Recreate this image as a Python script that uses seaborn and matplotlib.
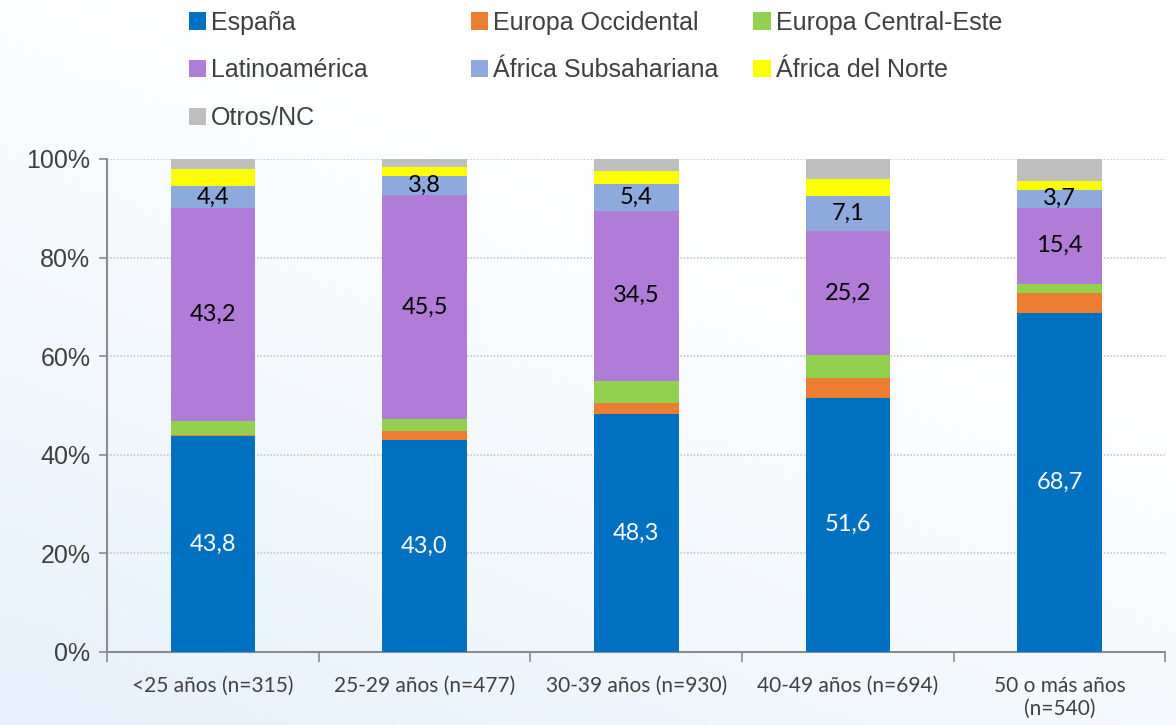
import numpy as np
import pandas as pd
import matplotlib
matplotlib.use("Agg")
import matplotlib.pyplot as plt
from matplotlib.patches import Patch
from matplotlib.ticker import FixedLocator
import seaborn as sns

# data (percent of each age group)
grupos = ["<25 años (n=315)", "25-29 años (n=477)", "30-39 años (n=930)",
          "40-49 años (n=694)", "50 o más años\n(n=540)"]
espana = [43.8, 43.0, 48.3, 51.6, 68.7]
europa_occ = [0.3, 1.8, 2.2, 3.9, 4.2]
europa_ce = [2.8, 2.4, 4.5, 4.7, 1.8]
latinoamerica = [43.2, 45.5, 34.5, 25.2, 15.4]
africa_sub = [4.4, 3.8, 5.4, 7.1, 3.7]
africa_norte = [3.4, 1.9, 2.6, 3.4, 1.8]
otros = [2.1, 1.6, 2.5, 4.1, 4.4]

series = ["España", "Europa Occidental", "Europa Central-Este", "Latinoamérica",
          "África Subsahariana", "África del Norte", "Otros/NC"]
valores = [espana, europa_occ, europa_ce, latinoamerica, africa_sub, africa_norte, otros]
colores = ["#0070C0", "#ED7D31", "#92D050", "#B07CD8", "#8EA9DB", "#FFFF00", "#BFBFBF"]
etiquetadas = {"España": "white", "Latinoamérica": "black", "África Subsahariana": "black"}

df = pd.DataFrame({s: v for s, v in zip(series, valores)}, index=grupos)
cum = df.cumsum(axis=1)

sns.set_theme(style="white")
plt.rcParams["font.family"] = ["Liberation Sans", "DejaVu Sans"]

fig = plt.figure(figsize=(11.76, 7.25), dpi=100)

# soft blue background gradient
bg = fig.add_axes([0, 0, 1, 1], zorder=-10)
yy, xx = np.mgrid[0:1:200j, 0:1:200j]
grad = np.clip(1.0 - 0.6 * xx - 0.9 * yy, 0, 1)
bg.imshow(grad, cmap=matplotlib.colors.LinearSegmentedColormap.from_list(
    "bgc", ["#ffffff", "#e6f1fb"]), extent=[0, 1, 0, 1], aspect="auto", origin="lower")
bg.axis("off")

ax = fig.add_axes([0.091, 0.1007, 0.9, 0.68])
ax.patch.set_alpha(0)

# stacked bars: draw cumulative totals from the top series down
for s, c in reversed(list(zip(series, colores))):
    d = pd.DataFrame({"grupo": grupos, "valor": cum[s].values})
    sns.barplot(data=d, x="grupo", y="valor", color=c, width=0.4,
                saturation=1, edgecolor="none", ax=ax, zorder=3)

# value labels
for s, tc in etiquetadas.items():
    for i, g in enumerate(grupos):
        v = df.loc[g, s]
        mid = cum.loc[g, s] - v / 2
        ax.text(i, mid, f"{v:.1f}".replace(".", ","), ha="center", va="center",
                color=tc, fontsize=17, family=["Lato", "DejaVu Sans"], zorder=5)

ax.set_ylim(0, 100)
ax.set_xlim(-0.5, len(grupos) - 0.5)
ax.set_yticks([0, 20, 40, 60, 80, 100])
ax.set_yticklabels([f"{t}%" for t in [0, 20, 40, 60, 80, 100]], fontsize=18, color="#404040")
ax.yaxis.grid(True, color="#c8c8c8", linestyle=(0, (1, 1)), linewidth=1.2, zorder=0)
ax.set_axisbelow(True)
ax.set_xlabel("")
ax.set_ylabel("")

ax.tick_params(axis="x", which="major", length=0, pad=17)
for lab in ax.get_xticklabels():
    lab.set_fontsize(15)
    lab.set_family(["Lato", "DejaVu Sans"])
    lab.set_color("#404040")
    lab.set_verticalalignment("top")
ax.xaxis.set_minor_locator(FixedLocator(np.arange(-0.5, len(grupos), 1.0)))
ax.tick_params(axis="x", which="minor", length=7, width=1.2, color="#8c8c8c", bottom=True)
ax.tick_params(axis="y", length=6, width=1.2, color="#8c8c8c", left=True, pad=6)

for side in ["top", "right"]:
    ax.spines[side].set_visible(False)
for side in ["left", "bottom"]:
    ax.spines[side].set_color("#8c8c8c")
    ax.spines[side].set_linewidth(1.5)

# legend laid out in three equal columns, as in the reference
columnas = [[0, 3, 6], [1, 4], [2, 5]]
xs = [0.152, 0.392, 0.632]
for col, x0 in zip(columnas, xs):
    handles = [Patch(facecolor=colores[k], edgecolor="none") for k in col]
    labels = [series[k] for k in col]
    leg = fig.legend(handles, labels, loc="upper left", bbox_to_anchor=(x0, 0.999),
                     frameon=False, fontsize=18, handlelength=0.7, handleheight=0.7,
                     handletextpad=0.2, labelspacing=0.95, borderaxespad=0)
    for t in leg.get_texts():
        t.set_color("#404040")

fig.savefig("out.png", dpi=100)
